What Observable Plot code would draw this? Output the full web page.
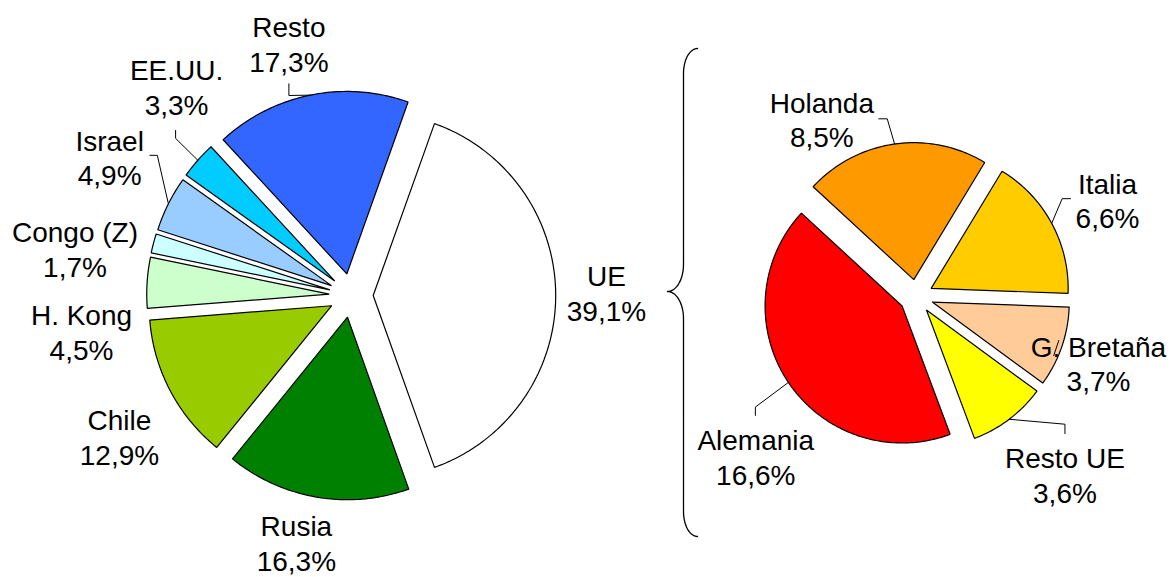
<!DOCTYPE html>
<html><head><meta charset="utf-8">
<script src="https://cdn.jsdelivr.net/npm/d3@7"></script>
<script src="https://cdn.jsdelivr.net/npm/@observablehq/plot@0.6"></script>
<style>html,body{margin:0;padding:0;background:#fff}</style>
</head><body><div id="chart"></div>
<script>
// ---- data ----
const leftCategories = ["UE", "Rusia", "Chile", "H. Kong", "Congo (Z)", "Israel", "EE.UU.", "Resto"];
const leftValues = [39.1, 16.3, 12.9, 4.5, 1.7, 4.9, 3.3, 17.3];
const rightCategories = ["Holanda", "Italia", "G. Bretaña", "Resto UE", "Alemania"];
const rightValues = [8.5, 6.6, 3.7, 3.6, 16.6];

// ---- styles ----
const leftColors = ["#FFFFFF", "#008000", "#99CC00", "#CCFFCC", "#CCFFFF", "#99CCFF", "#00CCFF", "#3366FF"];
const rightColors = ["#FF9900", "#FFCC00", "#FFCC99", "#FFFF00", "#FF0000"];

// ---- layout ----
const W = 1171, H = 577;
const leftPie = {cx: 350.7, cy: 295, r: 182.5, explode: 22, start: 19.62};
const rightPie = {cx: 915.7, cy: 296, r: 137, explode: 17, start: -47.3};
// label placement: [angle (deg, clockwise from north), distance] from the pie centre
const leftLabelPolar = [[89.3, 255.3], [192.5, 253.2], [238.7, 271.2], [262.4, 272.1], [279.7, 280.2], [299.8, 278.4], [320.1, 272.2], [346.1, 259.4]];
const rightLabelPolar = [[332, 201], [63.2, 214.3], [110.1, 194.1], [140.1, 231.9], [225.1, 226.5]];
// leader lines: end offset from label centre, elbow offset from end
const leftLeaders = [null, null, null, null, null,
  {end: [40.3, -1.8], elbow: [7.4, 0]},
  {end: [-1, 43.7], elbow: [0, 8]},
  {end: [0, 40.1], elbow: [0, 11.7]}];
const rightLeaders = [
  {end: [57, -0.2], elbow: [8.4, 0]},
  {end: [-37, -1.2], elbow: [-8.3, 0]},
  {end: [-44.7, -7.7], elbow: [5, -15], noArc: true},
  {end: [0, -40.8], elbow: [0, -9.4]},
  {end: [-0.4, -41], elbow: [0, -8.3]}];
const brace = {x: 683, top: 48, bottom: 536, mid: 291, tipX: 667, endX: 697, curlY: 25, midCurl: 27};

const rad = a => a * Math.PI / 180;
const fmt = v => v.toFixed(1).replace(".", ",") + "%";

function slices(cats, vals, colors, pie, labelPolar, leaders) {
  const total = d3.sum(vals);
  let a = pie.start;
  return cats.map((c, i) => {
    const span = vals[i] / total * 360;
    const a0 = a, a1 = a + span; a = a1;
    const mid = (a0 + a1) / 2;
    const tx = pie.cx + pie.explode * Math.sin(rad(mid));
    const ty = pie.cy - pie.explode * Math.cos(rad(mid));
    const pts = [{x: tx, y: ty}];
    const n = Math.max(2, Math.ceil(span));
    for (let k = 0; k <= n; k++) {
      const t = rad(a0 + (a1 - a0) * k / n);
      pts.push({x: tx + pie.r * Math.sin(t), y: ty - pie.r * Math.cos(t)});
    }
    const [la, ld] = labelPolar[i];
    const label = {x: pie.cx + ld * Math.sin(rad(la)), y: pie.cy - ld * Math.cos(rad(la)), text: c + "\n" + fmt(vals[i])};
    let leader = null;
    const L = leaders[i];
    if (L) {
      const e = {x: label.x + L.end[0], y: label.y + L.end[1]};
      const b = {x: e.x + L.elbow[0], y: e.y + L.elbow[1]};
      leader = [e, b];
      if (!L.noArc) leader.push({x: tx + pie.r * Math.sin(rad(mid)), y: ty - pie.r * Math.cos(rad(mid))});
      leader = leader.map(p => ({...p, cat: c}));
    }
    return {cat: c, color: colors[i], pts, label, leader};
  });
}

const all = [
  ...slices(leftCategories, leftValues, leftColors, leftPie, leftLabelPolar, leftLeaders),
  ...slices(rightCategories, rightValues, rightColors, rightPie, rightLabelPolar, rightLeaders)
];

// brace points
function bracePoints(b) {
  const p = [];
  const rx1 = b.endX - b.x, rx2 = b.x - b.tipX;
  for (let t = -90; t >= -180; t -= 6) p.push({x: b.endX + rx1 * Math.cos(rad(t)), y: b.top + b.curlY + b.curlY * Math.sin(rad(t))});
  const cy1 = b.mid - b.midCurl;
  for (let t = 0; t <= 90; t += 6) p.push({x: b.tipX + rx2 * Math.cos(rad(t)), y: cy1 + b.midCurl * Math.sin(rad(t))});
  const cy2 = b.mid + b.midCurl;
  for (let t = -90; t <= 0; t += 6) p.push({x: b.tipX + rx2 * Math.cos(rad(t)), y: cy2 + b.midCurl * Math.sin(rad(t))});
  const cy3 = b.bottom - b.curlY;
  for (let t = 180; t >= 90; t -= 6) p.push({x: b.endX + rx1 * Math.cos(rad(t)), y: cy3 + b.curlY * Math.sin(rad(t))});
  return p;
}

const font = "'Liberation Sans', Arial, Helvetica, sans-serif";
const marks = [];
for (const s of all) {
  marks.push(Plot.line(s.pts, {x: "x", y: "y", curve: "linear-closed", fill: s.color, stroke: "black", strokeWidth: 1.2, strokeLinejoin: "miter"}));
}
marks.push(Plot.line(all.filter(s => s.leader).flatMap(s => s.leader), {x: "x", y: "y", z: "cat", stroke: "black", strokeWidth: 1}));
marks.push(Plot.line(bracePoints(brace), {x: "x", y: "y", stroke: "black", strokeWidth: 1.3, curve: "catmull-rom"}));
marks.push(Plot.text(all.map(s => s.label), {x: "x", y: "y", text: "text", fontSize: 28, lineHeight: 1.232, fontFamily: font, fill: "black"}));

const chart = Plot.plot({
  width: W, height: H, margin: 0,
  x: {domain: [0, W], range: [0, W], axis: null},
  y: {domain: [0, H], range: [0, H], axis: null},
  style: {background: "#fff", fontFamily: font},
  marks
});
document.getElementById("chart").appendChild(chart);
</script>
</body></html>
